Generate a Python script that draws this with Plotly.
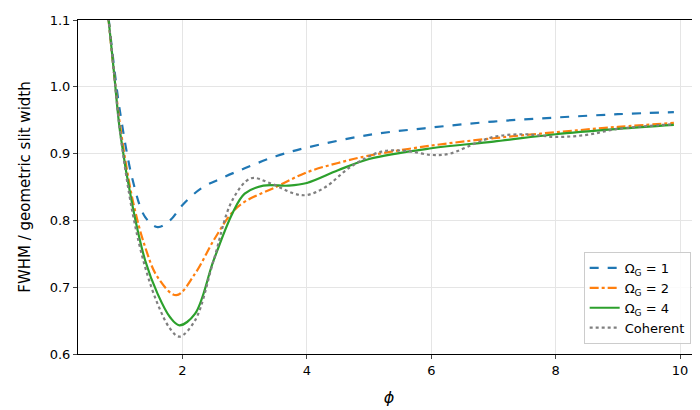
import plotly.graph_objects as go

# Omega_G = 1
x1 = [0.78, 0.9, 1.0, 1.2, 1.4, 1.6, 1.8, 2.0, 2.3, 2.6, 3.0, 3.5, 4.0, 5.0, 6.0, 7.0, 8.0, 9.0, 9.9]
y1 = [1.13, 1.03, 0.96, 0.86, 0.805, 0.79, 0.80, 0.823, 0.848, 0.862, 0.878, 0.896, 0.909, 0.928, 0.939, 0.948, 0.954, 0.959, 0.962]
# Omega_G = 2
x2 = [0.78, 0.9, 1.0, 1.2, 1.4, 1.6, 1.9, 2.2, 2.5, 2.8, 3.0, 3.5, 4.0, 4.5, 5.0, 6.0, 7.0, 8.0, 9.0, 9.9]
y2 = [1.13, 1.02, 0.94, 0.83, 0.76, 0.715, 0.688, 0.72, 0.77, 0.812, 0.828, 0.85, 0.872, 0.886, 0.897, 0.912, 0.923, 0.932, 0.94, 0.946]
# Omega_G = 4
x4 = [0.78, 0.9, 1.0, 1.2, 1.4, 1.6, 1.8, 1.95, 2.2, 2.5, 2.8, 3.0, 3.3, 3.7, 4.0, 4.5, 5.0, 6.0, 7.0, 8.0, 9.0, 9.9]
y4 = [1.13, 1.02, 0.93, 0.82, 0.74, 0.69, 0.655, 0.643, 0.66, 0.74, 0.81, 0.84, 0.852, 0.852, 0.856, 0.875, 0.892, 0.908, 0.918, 0.929, 0.937, 0.943]
# Coherent
xc = [0.78, 0.9, 1.0, 1.2, 1.4, 1.6, 1.8, 1.95, 2.2, 2.5, 2.8, 3.1, 3.4, 3.8, 4.0, 4.3, 4.7, 5.2, 5.6, 6.0, 6.3, 6.7, 7.0, 7.5, 8.0, 8.5, 9.0, 9.9]
yc = [1.13, 1.02, 0.93, 0.81, 0.73, 0.675, 0.638, 0.626, 0.65, 0.74, 0.83, 0.863, 0.856, 0.84, 0.838, 0.85, 0.88, 0.903, 0.904, 0.898, 0.9, 0.915, 0.925, 0.929, 0.925, 0.928, 0.937, 0.944]

fig = go.Figure()
fig.add_trace(go.Scatter(x=x1, y=y1, mode="lines", name="Ω<sub>G</sub> = 1",
                         line=dict(color="#1f77b4", width=2.2, dash="dash", shape="spline")))
fig.add_trace(go.Scatter(x=x2, y=y2, mode="lines", name="Ω<sub>G</sub> = 2",
                         line=dict(color="#ff7f0e", width=2.2, dash="dashdot", shape="spline")))
fig.add_trace(go.Scatter(x=x4, y=y4, mode="lines", name="Ω<sub>G</sub> = 4",
                         line=dict(color="#2ca02c", width=2.2, shape="spline")))
fig.add_trace(go.Scatter(x=xc, y=yc, mode="lines", name="Coherent",
                         line=dict(color="#7f7f7f", width=2.2, dash="dot", shape="spline")))

axis_style = dict(showline=True, mirror=True, linecolor="black", linewidth=1,
                  ticks="outside", ticklen=4, showgrid=True, gridcolor="#e5e5e5",
                  zeroline=False, tickfont=dict(size=13, color="black"))

fig.update_layout(
    width=700, height=410, template="plotly_white",
    font=dict(family="DejaVu Sans", color="black"),
    margin=dict(l=70, r=8, t=12, b=64),
    xaxis=dict(range=[0.32, 10.32], tickvals=[2, 4, 6, 8, 10], automargin=False,
               title=dict(text="<i>ϕ</i>", font=dict(size=16)), **axis_style),
    yaxis=dict(range=[0.6, 1.1], tickvals=[0.6, 0.7, 0.8, 0.9, 1.0, 1.1],
               tickformat=".1f", automargin=False,
               title=dict(text="FWHM / geometric slit width", font=dict(size=15)), **axis_style),
    legend=dict(x=0.985, y=0.03, xanchor="right", yanchor="bottom",
                bgcolor="rgba(255,255,255,0.85)", bordercolor="#cccccc", borderwidth=1,
                font=dict(size=13)),
    plot_bgcolor="white",
)

fig.write_html("out.html")
